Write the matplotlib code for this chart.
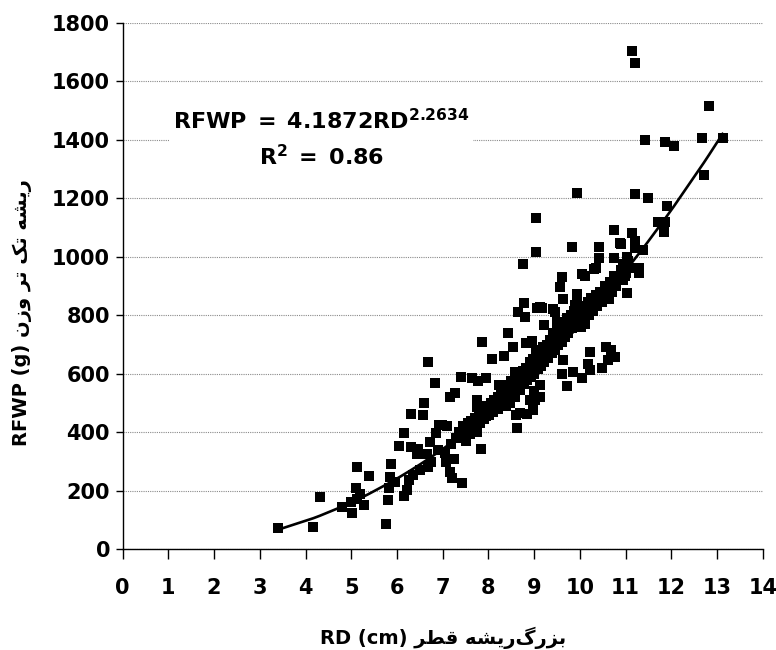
import numpy as np
import matplotlib
matplotlib.use("Agg")
import matplotlib.pyplot as plt

# ---------------- data ----------------
rd = [
    3.39, 4.17, 4.31, 4.80, 5.01, 5.00, 5.12, 5.10, 5.12, 5.20, 5.28, 5.38, 5.76, 5.80, 5.83, 5.85, 5.88, 5.95,
    6.05, 6.15, 6.15, 6.21, 6.26, 6.31, 6.30, 6.36, 6.43, 6.47, 6.50, 6.56, 6.60, 6.65, 6.68, 6.68, 6.72, 6.75,
    6.83, 6.85, 6.90, 6.92, 6.98, 7.05, 7.08, 7.10, 7.16, 7.18, 7.20, 7.16, 7.27, 7.25, 7.30, 7.43, 7.35,
    7.40, 7.45, 7.50, 7.50, 7.55, 7.60, 7.62, 7.65, 7.70, 7.72, 7.75, 7.80, 7.82, 7.85, 7.90, 7.92, 7.95,
    8.00, 8.02, 8.05, 8.10, 8.12, 8.15, 8.20, 8.22, 8.25, 8.28, 8.30, 8.35, 8.38, 8.40, 8.42, 8.45, 8.48,
    8.50, 8.52, 8.55, 8.58, 8.60, 8.62, 8.65, 8.68, 8.70, 8.72, 8.75, 8.78, 8.80, 8.82, 8.85, 8.88, 8.90,
    8.92, 8.95, 8.98, 9.00, 9.02, 9.05, 9.08, 9.10, 9.12, 9.15, 9.18, 9.20, 9.22, 9.25, 9.28, 9.30, 9.32,
    9.35, 9.38, 9.40, 9.42, 9.45, 9.48, 9.50, 9.52, 9.55, 9.58, 9.60, 9.62, 9.65, 9.68, 9.70, 9.72, 9.75,
    9.78, 9.80, 9.82, 9.85, 9.88, 9.90, 9.92, 9.95, 9.98, 10.00, 10.02, 10.05, 10.08, 10.10, 10.12, 10.15,
    10.18, 10.20, 10.22, 10.25, 10.28, 10.30, 10.35, 10.38, 10.40, 10.45, 10.48, 10.50, 10.55, 10.58,
    10.62, 10.65, 10.70, 10.72, 10.75, 10.80, 10.85, 10.90, 10.95, 11.00, 11.05, 11.10,
    7.41, 7.63, 7.78, 7.95, 7.74, 7.76, 7.87, 8.08, 8.23, 8.33, 8.42, 8.53, 8.57, 8.65, 8.75, 8.78, 8.79,
    8.82, 8.95, 9.05, 9.07, 9.05, 9.05, 9.13, 9.17, 9.21, 9.42, 9.45, 9.50, 9.41, 9.34, 9.63, 9.56, 9.61,
    9.94, 9.90, 9.93, 9.94, 9.83, 10.05, 10.31, 10.42, 10.42, 10.12, 10.36, 10.75, 10.75, 10.87, 11.02,
    11.13, 11.20, 11.20, 11.38, 11.30, 11.30, 11.02, 10.90, 10.95, 10.90, 10.60, 10.36, 10.64, 10.68, 10.98,
    7.84, 8.62, 8.60, 8.70, 8.84, 8.98, 9.02, 9.12, 8.91, 9.13, 9.00, 9.60, 9.71, 9.85, 10.04, 10.18, 10.22,
    10.22, 10.48, 10.58, 10.62, 10.69, 10.77, 9.64,
    11.14, 11.20, 12.82, 11.42, 11.86, 12.05, 12.67, 13.12, 12.71, 11.20, 11.48, 11.90, 11.70, 11.87, 11.85,
]
rfwp = [
    74, 75, 179, 146, 124, 162, 173, 210, 281, 190, 151, 250, 86, 170, 208, 248, 290, 230,
    354, 399, 182, 203, 236, 464, 350, 255, 327, 344, 270, 459, 499, 327, 639, 280, 367, 300,
    569, 399, 340, 424, 424, 330, 299, 420, 265, 360, 242, 519, 535, 310, 380, 227, 400,
    390, 420, 370, 405, 430, 395, 440, 415, 450, 420, 400, 460, 430, 470, 445, 490, 455,
    480, 460, 500, 470, 510, 490, 520, 480, 500, 540, 510, 530, 490, 560, 520, 545, 500,
    575, 540, 560, 520, 590, 555, 575, 600, 545, 580, 610, 565, 595, 620, 580, 605, 640,
    590, 615, 650, 600, 630, 660, 615, 640, 670, 625, 650, 690, 640, 665, 700, 655, 680,
    715, 670, 695, 730, 680, 710, 745, 700, 725, 760, 710, 740, 775, 725, 750, 790, 740,
    765, 800, 755, 780, 815, 765, 795, 825, 780, 810, 760, 790, 830, 800, 770, 815,
    845, 800, 830, 860, 815, 840, 870, 830, 855, 880, 845, 870, 900, 860,
    885, 915, 880, 905, 935, 900, 925, 955, 920, 945, 985, 960,
    588, 585, 575, 585, 510, 487, 710, 650, 563, 662, 738, 690, 605, 812, 975, 843, 795,
    706, 713, 680, 824, 1017, 1132, 829, 824, 767, 822, 812, 778, 738, 700, 854, 898, 930,
    872, 835, 850, 1219, 1032, 941, 958, 995, 1032, 935, 960, 1092, 996, 1046, 1000,
    1080, 1055, 1030, 1023, 960, 943, 877, 1045, 975, 930, 875, 855, 855, 904, 935,
    342, 413, 460, 465, 464, 476, 510, 521, 510, 560, 540, 600, 558, 605, 584, 635, 613,
    675, 618, 692, 647, 681, 658, 647,
    1702, 1662, 1516, 1400, 1394, 1377, 1405, 1405, 1278, 1214, 1200, 1174, 1120, 1120, 1086,
]

fit_a = 4.1872
fit_b = 2.2634
r_squared = 0.86

x_ticks = list(range(0, 15))
y_ticks = list(range(0, 1801, 200))

x_words_fa = ["قطر", "ریشه", "بزرگ"]
y_words_fa = ["وزن", "تر", "تک", "ریشه"]

# ------------- minimal Persian shaping (visual forms) -------------
FORMS = {  # iso, fin, ini, med
    "ر": ("\uFEAD", "\uFEAE", None, None),
    "ز": ("\uFEAF", "\uFEB0", None, None),
    "و": ("\uFEED", "\uFEEE", None, None),
    "ی": ("\uFBFC", "\uFBFD", "\uFBFE", "\uFBFF"),
    "ش": ("\uFEB5", "\uFEB6", "\uFEB7", "\uFEB8"),
    "ه": ("\uFEE9", "\uFEEA", "\uFEEB", "\uFEEC"),
    "ت": ("\uFE95", "\uFE96", "\uFE97", "\uFE98"),
    "ک": ("\uFB8E", "\uFB8F", "\uFB90", "\uFB91"),
    "ن": ("\uFEE5", "\uFEE6", "\uFEE7", "\uFEE8"),
    "ق": ("\uFED5", "\uFED6", "\uFED7", "\uFED8"),
    "ط": ("\uFEC1", "\uFEC2", "\uFEC3", "\uFEC4"),
    "ب": ("\uFE8F", "\uFE90", "\uFE91", "\uFE92"),
    "گ": ("\uFB92", "\uFB93", "\uFB94", "\uFB95"),
}


def dual(ch):
    return FORMS.get(ch, (None, None, None, None))[2] is not None


def shape_word(word):
    out = []
    n = len(word)
    for i, ch in enumerate(word):
        if ch not in FORMS:
            out.append(ch)
            continue
        prev_join = i > 0 and dual(word[i - 1])
        next_join = i < n - 1 and dual(ch) and word[i + 1] in FORMS
        iso, fin, ini, med = FORMS[ch]
        if prev_join and next_join:
            g = med
        elif prev_join:
            g = fin
        elif next_join:
            g = ini
        else:
            g = iso
        out.append(g)
    return "".join(reversed(out))


x_label = "RD (cm) " + shape_word(x_words_fa[0]) + " " + shape_word(x_words_fa[1]) + shape_word(x_words_fa[2])
y_label = "RFWP (g) " + " ".join(shape_word(w) for w in y_words_fa)

# ---------------- plot ----------------
plt.rcParams["font.family"] = ["DejaVu Sans"]
plt.rcParams["font.weight"] = "bold"
plt.rcParams["mathtext.fontset"] = "dejavusans"

fig = plt.figure(figsize=(7.76, 6.5), dpi=100)
ax = fig.add_axes([0.158, 0.155, 0.825, 0.810])

ax.scatter(rd, rfwp, marker="s", s=52, color="black", linewidths=0, zorder=3)

xs = np.sort(np.array(rd))
ax.plot(xs, fit_a * xs ** fit_b, color="black", lw=1.9, zorder=4)

ax.set_xlim(0, 14)
ax.set_ylim(0, 1800)
ax.set_xticks(x_ticks)
ax.set_yticks(y_ticks)
ax.tick_params(axis="x", direction="out", length=7, width=1, pad=14, labelsize=15)
ax.tick_params(axis="y", direction="out", length=5, width=1, pad=4, labelsize=15)
for lbl in ax.get_xticklabels() + ax.get_yticklabels():
    lbl.set_fontweight("bold")

ax.spines["top"].set_visible(False)
ax.spines["right"].set_visible(False)
ax.spines["left"].set_linewidth(1)
ax.spines["bottom"].set_linewidth(1)
ax.yaxis.grid(True, linestyle=(0, (1, 1)), color="#8a8a8a", lw=0.8)
ax.set_axisbelow(True)

ax.set_xlabel(x_label, fontsize=14, fontweight="bold")
ax.set_ylabel(y_label, fontsize=14, fontweight="bold")
ax.xaxis.set_label_coords(0.5, -0.148)
ax.yaxis.set_label_coords(-0.141, 0.45)

eq = (r"$\mathbf{RFWP\;=\;%sRD^{%s}}$" % (fit_a, fit_b)) + "\n" + (r"$\mathbf{R^2\;=\;%s}$" % r_squared)
ax.text(4.34, 1405, eq, ha="center", va="center", multialignment="center",
        fontsize=16, linespacing=1.5, zorder=5,
        bbox=dict(facecolor="white", edgecolor="none", pad=3))

fig.savefig("out.png", dpi=100)
